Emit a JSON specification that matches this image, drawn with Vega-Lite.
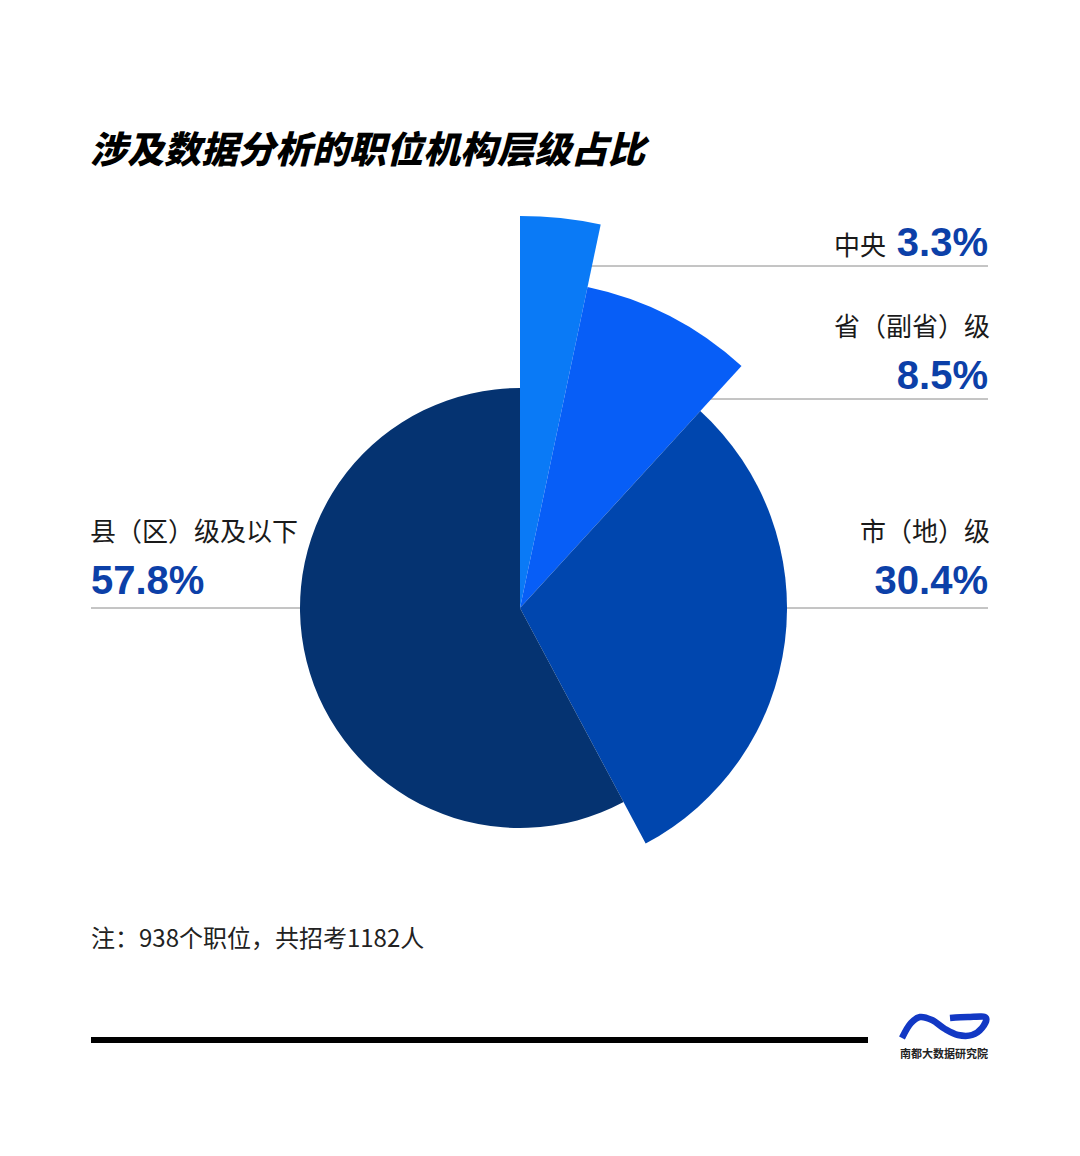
{
  "$schema": "https://vega.github.io/schema/vega-lite/v6.json",
  "width": 1080,
  "height": 1156,
  "autosize": {"type": "fit", "contains": "padding"},
  "padding": 0,
  "background": "#ffffff",
  "config": {"view": {"stroke": null}, "axis": {"disable": true}},
  "datasets": {
    "slices": [
      {"level": "中央", "share": 0.033, "r": 392, "rank": 1},
      {"level": "省（副省）级", "share": 0.085, "r": 328, "rank": 2},
      {"level": "市（地）级", "share": 0.304, "r": 267, "rank": 3},
      {"level": "县（区）级及以下", "share": 0.578, "r": 220, "rank": 4}
    ],
    "lines": [
      {"x1": 520, "x2": 988, "y": 266},
      {"x1": 520, "x2": 988, "y": 399},
      {"x1": 520, "x2": 988, "y": 608},
      {"x1": 91, "x2": 520, "y": 608}
    ],
    "namesRight": [
      {"t": "中央", "x": 886, "y": 255},
      {"t": "省（副省）级", "x": 990, "y": 336},
      {"t": "市（地）级", "x": 990, "y": 541}
    ],
    "namesLeft": [
      {"t": "县（区）级及以下", "x": 90, "y": 541}
    ],
    "pctRight": [
      {"v": 0.033, "x": 988, "y": 256},
      {"v": 0.085, "x": 988, "y": 389},
      {"v": 0.304, "x": 988, "y": 594}
    ],
    "pctLeft": [
      {"v": 0.578, "x": 91, "y": 594}
    ],
    "title": [{"t": "涉及数据分析的职位机构层级占比", "x": 90, "y": 163}],
    "note": [{"t": "注：938个职位，共招考1182人", "x": 91, "y": 947}],
    "footRule": [{"x1": 91, "x2": 868, "y": 1040}],
    "brand": [{"t": "南都大数据研究院", "x": 944, "y": 1058}],
    "wave": [
      {"i": 1, "x": 902, "y": 1038},
      {"i": 2, "x": 911, "y": 1023},
      {"i": 3, "x": 920, "y": 1017},
      {"i": 4, "x": 932, "y": 1020},
      {"i": 5, "x": 945, "y": 1029},
      {"i": 6, "x": 958, "y": 1035},
      {"i": 7, "x": 972, "y": 1035},
      {"i": 8, "x": 982, "y": 1028},
      {"i": 9, "x": 986, "y": 1018},
      {"i": 10, "x": 968, "y": 1017},
      {"i": 11, "x": 950, "y": 1018}
    ]
  },
  "layer": [
    {
      "data": {"name": "lines"},
      "mark": {"type": "rule", "color": "#8a8a8a", "strokeWidth": 1},
      "encoding": {
        "x": {"field": "x1", "type": "quantitative", "scale": {"domain": [0, 1080], "nice": false, "zero": false}},
        "x2": {"field": "x2"},
        "y": {"field": "y", "type": "quantitative", "scale": {"domain": [0, 1156], "reverse": true, "nice": false, "zero": false}}
      }
    },
    {
      "data": {"name": "slices"},
      "transform": [
        {"stack": "share", "groupby": [], "sort": [{"field": "rank", "order": "ascending"}], "as": ["s0", "s1"]}
      ],
      "mark": {"type": "arc"},
      "encoding": {
        "theta": {"field": "s0", "type": "quantitative", "scale": {"domain": [0, 1], "zero": true, "nice": false}},
        "theta2": {"field": "s1"},
        "radius": {"field": "r", "type": "quantitative", "scale": {"type": "linear", "domain": [0, 392], "range": [0, 392], "zero": true, "nice": false}},
        "x": {"datum": 520, "type": "quantitative", "scale": {"domain": [0, 1080], "nice": false, "zero": false}},
        "y": {"datum": 608, "type": "quantitative", "scale": {"domain": [0, 1156], "reverse": true, "nice": false, "zero": false}},
        "color": {
          "field": "level",
          "type": "nominal",
          "scale": {
            "domain": ["中央", "省（副省）级", "市（地）级", "县（区）级及以下"],
            "range": ["#0a7af6", "#075ef7", "#0046ae", "#053371"]
          },
          "legend": null
        }
      }
    },
    {
      "data": {"name": "namesRight"},
      "mark": {"type": "text", "align": "right", "baseline": "alphabetic", "font": "Noto Sans CJK SC", "fontSize": 26, "fontWeight": 400, "color": "#1a1a1a"},
      "encoding": {
        "x": {"field": "x", "type": "quantitative", "scale": {"domain": [0, 1080], "nice": false, "zero": false}},
        "y": {"field": "y", "type": "quantitative", "scale": {"domain": [0, 1156], "reverse": true, "nice": false, "zero": false}},
        "text": {"field": "t"}
      }
    },
    {
      "data": {"name": "namesLeft"},
      "mark": {"type": "text", "align": "left", "baseline": "alphabetic", "font": "Noto Sans CJK SC", "fontSize": 26, "fontWeight": 400, "color": "#1a1a1a"},
      "encoding": {
        "x": {"field": "x", "type": "quantitative", "scale": {"domain": [0, 1080], "nice": false, "zero": false}},
        "y": {"field": "y", "type": "quantitative", "scale": {"domain": [0, 1156], "reverse": true, "nice": false, "zero": false}},
        "text": {"field": "t"}
      }
    },
    {
      "data": {"name": "pctRight"},
      "mark": {"type": "text", "align": "right", "baseline": "alphabetic", "font": "Liberation Sans", "fontSize": 40, "fontWeight": "bold", "color": "#0c40a8"},
      "encoding": {
        "x": {"field": "x", "type": "quantitative", "scale": {"domain": [0, 1080], "nice": false, "zero": false}},
        "y": {"field": "y", "type": "quantitative", "scale": {"domain": [0, 1156], "reverse": true, "nice": false, "zero": false}},
        "text": {"field": "v", "type": "quantitative", "format": ".1%"}
      }
    },
    {
      "data": {"name": "pctLeft"},
      "mark": {"type": "text", "align": "left", "baseline": "alphabetic", "font": "Liberation Sans", "fontSize": 40, "fontWeight": "bold", "color": "#0c40a8"},
      "encoding": {
        "x": {"field": "x", "type": "quantitative", "scale": {"domain": [0, 1080], "nice": false, "zero": false}},
        "y": {"field": "y", "type": "quantitative", "scale": {"domain": [0, 1156], "reverse": true, "nice": false, "zero": false}},
        "text": {"field": "v", "type": "quantitative", "format": ".1%"}
      }
    },
    {
      "data": {"name": "title"},
      "mark": {"type": "text", "align": "left", "baseline": "alphabetic", "font": "Noto Sans CJK SC", "fontSize": 37, "fontWeight": 900, "fontStyle": "italic", "color": "#000000"},
      "encoding": {
        "x": {"field": "x", "type": "quantitative", "scale": {"domain": [0, 1080], "nice": false, "zero": false}},
        "y": {"field": "y", "type": "quantitative", "scale": {"domain": [0, 1156], "reverse": true, "nice": false, "zero": false}},
        "text": {"field": "t"}
      }
    },
    {
      "data": {"name": "note"},
      "mark": {"type": "text", "align": "left", "baseline": "alphabetic", "font": "Noto Sans CJK SC", "fontSize": 24, "fontWeight": 400, "color": "#222222"},
      "encoding": {
        "x": {"field": "x", "type": "quantitative", "scale": {"domain": [0, 1080], "nice": false, "zero": false}},
        "y": {"field": "y", "type": "quantitative", "scale": {"domain": [0, 1156], "reverse": true, "nice": false, "zero": false}},
        "text": {"field": "t"}
      }
    },
    {
      "data": {"name": "footRule"},
      "mark": {"type": "rule", "color": "#000000", "strokeWidth": 6},
      "encoding": {
        "x": {"field": "x1", "type": "quantitative", "scale": {"domain": [0, 1080], "nice": false, "zero": false}},
        "x2": {"field": "x2"},
        "y": {"field": "y", "type": "quantitative", "scale": {"domain": [0, 1156], "reverse": true, "nice": false, "zero": false}}
      }
    },
    {
      "data": {"name": "wave"},
      "mark": {"type": "line", "color": "#1238c4", "strokeWidth": 6.5, "interpolate": "catmull-rom", "strokeCap": "butt"},
      "encoding": {
        "x": {"field": "x", "type": "quantitative", "scale": {"domain": [0, 1080], "nice": false, "zero": false}},
        "y": {"field": "y", "type": "quantitative", "scale": {"domain": [0, 1156], "reverse": true, "nice": false, "zero": false}},
        "order": {"field": "i", "type": "quantitative"}
      }
    },
    {
      "data": {"name": "brand"},
      "mark": {"type": "text", "align": "center", "baseline": "alphabetic", "font": "Noto Sans CJK SC", "fontSize": 11, "fontWeight": 700, "color": "#222222"},
      "encoding": {
        "x": {"field": "x", "type": "quantitative", "scale": {"domain": [0, 1080], "nice": false, "zero": false}},
        "y": {"field": "y", "type": "quantitative", "scale": {"domain": [0, 1156], "reverse": true, "nice": false, "zero": false}},
        "text": {"field": "t"}
      }
    }
  ]
}
